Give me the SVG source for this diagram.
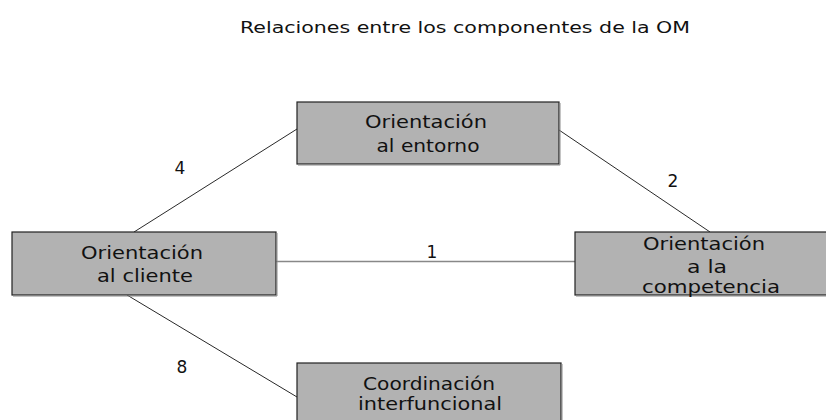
<svg xmlns="http://www.w3.org/2000/svg" width="826" height="420" viewBox="0 0 826 420">
<style>
.box{fill:#b2b2b2;stroke:#222;stroke-width:1.2}
.sh{fill:none;stroke:#8a8a8a;stroke-width:1}
.t{font-family:"DejaVu Sans","Liberation Sans",sans-serif;font-size:17px;fill:#111;text-anchor:middle}
.ti{font-family:"DejaVu Sans","Liberation Sans",sans-serif;font-size:16px;fill:#111;text-anchor:middle}
.n{font-family:"DejaVu Sans","Liberation Sans",sans-serif;font-size:17px;fill:#111;text-anchor:middle}
.c{stroke:#111;stroke-width:0.9;fill:none}
</style>
<rect width="826" height="420" fill="#fff"/>
<text class="ti" x="465" y="33" textLength="450" lengthAdjust="spacingAndGlyphs">Relaciones entre los componentes de la OM</text>
<g id="connectors">
<line class="c" x1="134" y1="232" x2="297" y2="129"/>
<line class="c" x1="559" y1="130" x2="710" y2="232"/>
<line x1="276" y1="261.5" x2="575" y2="261.5" stroke="#888" stroke-width="1.5"/>
<line class="c" x1="127" y1="295" x2="297" y2="397"/>
<text class="n" x="180" y="174">4</text>
<text class="n" x="673" y="187">2</text>
<text class="n" x="432" y="258">1</text>
<text class="n" x="182" y="373">8</text>
</g>
<g id="cliente">
<rect class="box" x="12" y="232" width="264" height="63"/>
<polyline class="sh" points="277,233 277,296 13,296"/>
<text class="t" x="142" y="259" textLength="122" lengthAdjust="spacingAndGlyphs">Orientación</text>
<text class="t" x="145" y="282" textLength="96" lengthAdjust="spacingAndGlyphs">al cliente</text>
</g>
<g id="entorno">
<rect class="box" x="297" y="102" width="262" height="62"/>
<polyline class="sh" points="560,103 560,165 298,165"/>
<text class="t" x="426" y="128" textLength="122" lengthAdjust="spacingAndGlyphs">Orientación</text>
<text class="t" x="428" y="152" textLength="103" lengthAdjust="spacingAndGlyphs">al entorno</text>
</g>
<g id="competencia">
<rect class="box" x="575" y="232" width="260" height="63"/>
<polyline class="sh" points="576,296 826,296"/>
<text class="t" x="704" y="250" textLength="122" lengthAdjust="spacingAndGlyphs">Orientación</text>
<text class="t" x="707" y="273" textLength="40" lengthAdjust="spacingAndGlyphs">a la</text>
<text class="t" x="711" y="293" textLength="138" lengthAdjust="spacingAndGlyphs">competencia</text>
</g>
<g id="coordinacion">
<rect class="box" x="297" y="363" width="264" height="70"/>
<polyline class="sh" points="562,364 562,420"/>
<text class="t" x="429" y="390" textLength="132" lengthAdjust="spacingAndGlyphs">Coordinación</text>
<text class="t" x="430" y="410" textLength="144" lengthAdjust="spacingAndGlyphs">interfuncional</text>
</g>
</svg>
